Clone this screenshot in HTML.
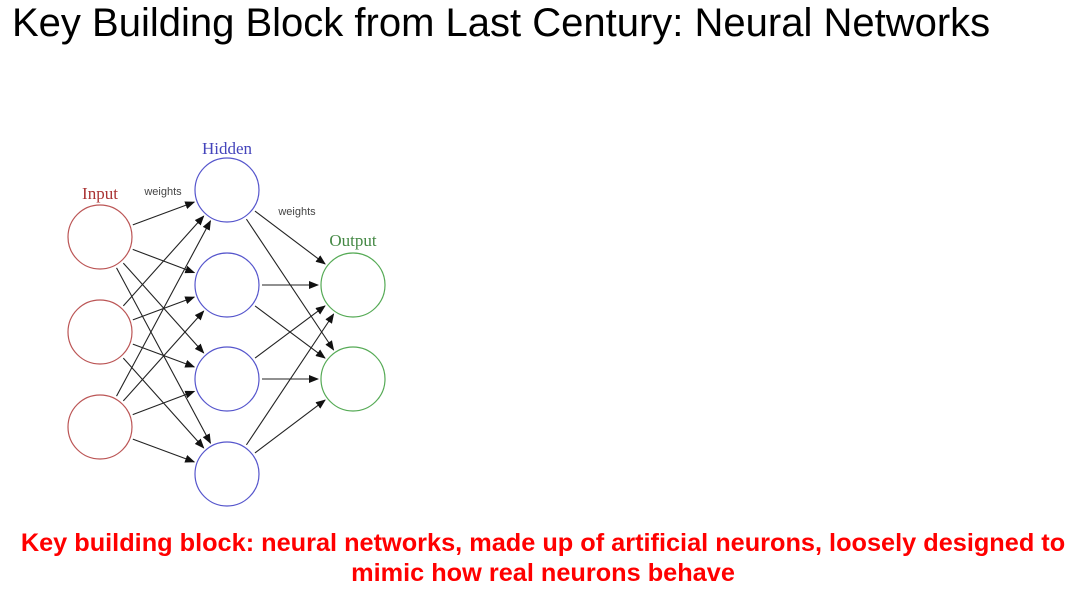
<!DOCTYPE html>
<html><head><meta charset="utf-8"><style>
body{margin:0;width:1080px;height:591px;background:#fff;overflow:hidden;position:relative;font-family:"Liberation Sans",sans-serif}
.t{position:absolute;left:12px;top:0px;font-size:40px;color:#000;white-space:nowrap;line-height:46px}
.b{position:absolute;left:0;width:1086px;top:528px;text-align:center;color:#f00;font-weight:bold;font-size:25.3px;line-height:30px;white-space:nowrap}
svg{position:absolute;left:0;top:0}
</style></head><body>
<div class="t">Key Building Block from Last Century: Neural Networks</div>
<svg id="s" width="1080" height="591" xmlns="http://www.w3.org/2000/svg">
<defs><marker id="a" markerWidth="10" markerHeight="8" refX="9" refY="4" orient="auto" markerUnits="userSpaceOnUse"><path d="M0,0 L10,4 L0,8 z" fill="#111"/></marker></defs>
<g font-family="Liberation Serif,serif" font-size="17" text-anchor="middle">
<text x="100" y="199" fill="#a33">Input</text>
<text x="227" y="154" fill="#44b">Hidden</text>
<text x="353" y="246" fill="#484">Output</text>
</g>
<g font-family="Liberation Sans,sans-serif" font-size="11" fill="#444" text-anchor="middle">
<text x="163" y="195">weights</text>
<text x="297" y="215">weights</text>
</g>
<g id="L" stroke="#222" stroke-width="1.1"></g>
<g fill="none" stroke-width="1.2">
<circle cx="100" cy="237" r="32" stroke="#b55"/><circle cx="100" cy="332" r="32" stroke="#b55"/><circle cx="100" cy="427" r="32" stroke="#b55"/>
<circle cx="227" cy="190" r="32" stroke="#55c"/><circle cx="227" cy="285" r="32" stroke="#55c"/><circle cx="227" cy="379" r="32" stroke="#55c"/><circle cx="227" cy="474" r="32" stroke="#55c"/>
<circle cx="353" cy="285" r="32" stroke="#5a5"/><circle cx="353" cy="379" r="32" stroke="#5a5"/>
</g>
</svg>
<div class="b">Key building block: neural networks, made up of artificial neurons, loosely designed to<br>mimic how real neurons behave</div>
<script>
var I=[[100,237],[100,332],[100,427]],H=[[227,190],[227,285],[227,379],[227,474]],O=[[353,285],[353,379]];
var g=document.getElementById('L'),h='';
function ln(a,b){var dx=b[0]-a[0],dy=b[1]-a[1],l=Math.hypot(dx,dy),ux=dx/l,uy=dy/l;
h+='<line x1="'+(a[0]+ux*35)+'" y1="'+(a[1]+uy*35)+'" x2="'+(b[0]-ux*35)+'" y2="'+(b[1]-uy*35)+'" marker-end="url(#a)"/>';}
I.forEach(function(a){H.forEach(function(b){ln(a,b)})});
H.forEach(function(a){O.forEach(function(b){ln(a,b)})});
g.innerHTML=h;
</script>
</body></html>
